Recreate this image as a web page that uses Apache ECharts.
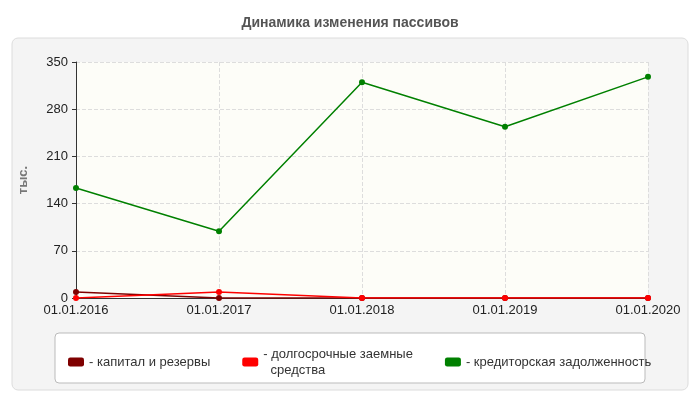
<!DOCTYPE html>
<html><head><meta charset="utf-8">
<script src="https://cdn.jsdelivr.net/npm/echarts@6/dist/echarts.min.js"></script>
<style>html,body{margin:0;padding:0;background:#fff}#c{width:700px;height:400px}</style>
</head><body><div id="c"></div>
<script>
const categories = ['01.01.2016','01.01.2017','01.01.2018','01.01.2019','01.01.2020'];
const capital = [9, 0, 0, 0, 0];
const longTerm = [0, 9, 0, 0, 0];
const payables = [163, 99, 320, 254, 328];
const yTicks = [0, 70, 140, 210, 280, 350];
const names = ['капитал и резервы','долгосрочные заемные\nсредства','кредиторская задолженность'];
const colors = ['#7f0000','#ff0000','#008000'];

const chart = echarts.init(document.getElementById('c'));
const mk = (name, data, color) => ({
  name, type:'line', data, symbol:'circle', symbolSize:6,
  lineStyle:{color, width:1.5}, itemStyle:{color}
});
chart.setOption({
  animation:false,
  title:{text:'Динамика изменения пассивов', left:'center', top:11,
    textStyle:{fontSize:14, fontWeight:'bold', color:'#555', fontFamily:'Liberation Sans'}},
  graphic:[
    {type:'rect', shape:{x:12,y:38,width:676,height:352,r:6}, style:{fill:'#f4f4f4', stroke:'#dcdcdc'}, z:-10},
    {type:'rect', shape:{x:55,y:333,width:590,height:50,r:4}, style:{fill:'#fff', stroke:'#bbb'}, z:-5}
  ],
  grid:{left:76, right:52, top:62, bottom:102},
  legend:{left:63, top:341, itemWidth:16, itemHeight:9, itemGap:32, icon:'roundRect',
    formatter: n => '- ' + n.replace('\n','\n  '),
    textStyle:{fontSize:13, color:'#333', fontFamily:'Liberation Sans', lineHeight:16, verticalAlign:'top'}},
  xAxis:{type:'category', data:categories, boundaryGap:false,
    axisLine:{lineStyle:{color:'#333'}}, axisTick:{show:false},
    axisLabel:{fontSize:13, color:'#222', fontFamily:'Liberation Sans', margin:6},
    splitLine:{show:true, lineStyle:{type:'dashed', color:'#ddd'}}},
  yAxis:{type:'value', min:0, max:350, interval:70, name:'тыс.', nameLocation:'middle', nameGap:46,
    nameTextStyle:{fontSize:13, fontWeight:'bold', color:'#777'},
    axisLine:{show:true, lineStyle:{color:'#333'}}, axisTick:{show:true, length:4},
    axisLabel:{fontSize:13, color:'#222', fontFamily:'Liberation Sans'},
    splitLine:{lineStyle:{type:'dashed', color:'#ddd'}},
    splitArea:{show:true, areaStyle:{color:['#fdfdf8','#fdfdf8']}}},
  series:[mk(names[0],capital,colors[0]), mk(names[1],longTerm,colors[1]), mk(names[2],payables,colors[2])]
});
</script></body></html>
